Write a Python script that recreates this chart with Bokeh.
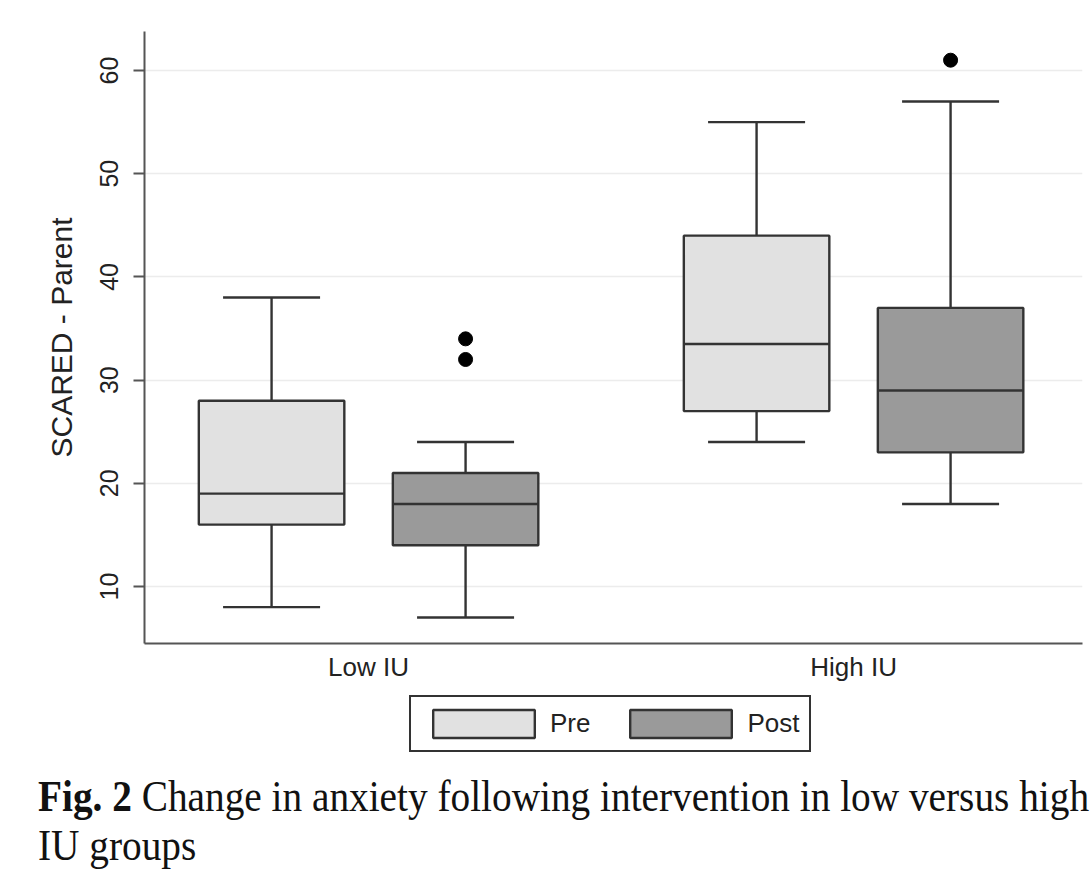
from bokeh.plotting import figure
from bokeh.models import (Legend, LegendItem, Div, ColumnDataSource, FixedTicker, Range1d)
from bokeh.layouts import column
from bokeh.embed import file_html
from bokeh.resources import INLINE

# ---------------- data ----------------
groups = ["Low IU", "High IU"]
phases = ["Pre", "Post"]
box_group = [0, 0, 1, 1]
box_phase = [0, 1, 0, 1]
whisker_low = [8, 7, 24, 18]
q1 = [16, 14, 27, 23]
median = [19, 18, 33.5, 29]
q3 = [28, 21, 44, 37]
whisker_high = [38, 24, 55, 57]
outlier_group = [0, 0, 1]
outlier_phase = [1, 1, 1]
outlier_value = [32, 34, 61]
y_ticks = [10, 20, 30, 40, 50, 60]
y_title = "SCARED - Parent"
caption_bold = "Fig. 2"
caption_line1 = "Change in anxiety following intervention in low versus high"
caption_line2 = "IU groups"

# ---------------- layout / style ----------------
phase_fill = ["#e1e1e1", "#9a9a9a"]
group_pos = [1.0, 2.0]
phase_offset = [-0.2, 0.2]
box_w = 0.3
cap_w = 0.2
dark = "#333333"
font = "Liberation Sans"

xc = [group_pos[g] + phase_offset[ph] for g, ph in zip(box_group, box_phase)]
src = ColumnDataSource(dict(
    x=xc,
    left=[x - box_w / 2 for x in xc],
    right=[x + box_w / 2 for x in xc],
    cl=[x - cap_w / 2 for x in xc],
    cr=[x + cap_w / 2 for x in xc],
    wl=whisker_low, q1=q1, med=median, q3=q3, wh=whisker_high,
    fill=[phase_fill[ph] for ph in box_phase],
))
osrc = ColumnDataSource(dict(
    x=[group_pos[g] + phase_offset[ph] for g, ph in zip(outlier_group, outlier_phase)],
    y=outlier_value,
))

p = figure(width=1084, height=688,
           x_range=Range1d(0.538, 2.472), y_range=Range1d(4.48, 63.78),
           output_backend="svg", toolbar_location=None,
           min_border_left=144, min_border_top=31, min_border_right=2,
           min_border_bottom=45)
p.outline_line_color = None
p.background_fill_color = "white"
p.border_fill_color = "white"

# whiskers
lw = 2.4
p.segment(x0="x", y0="wl", x1="x", y1="q1", source=src, line_color=dark, line_width=lw)
p.segment(x0="x", y0="q3", x1="x", y1="wh", source=src, line_color=dark, line_width=lw)
p.segment(x0="cl", y0="wl", x1="cr", y1="wl", source=src, line_color=dark, line_width=lw)
p.segment(x0="cl", y0="wh", x1="cr", y1="wh", source=src, line_color=dark, line_width=lw)
# boxes
p.quad(left="left", right="right", bottom="q1", top="q3", source=src,
       fill_color="fill", line_color=dark, line_width=lw)
p.segment(x0="left", y0="med", x1="right", y1="med", source=src, line_color=dark, line_width=lw)
# outliers
p.scatter(x="x", y="y", source=osrc, size=14, color="black")

# axes
p.xgrid.visible = False
p.ygrid.grid_line_color = "#ececec"
p.ygrid.grid_line_width = 1.5
p.ygrid.ticker = FixedTicker(ticks=y_ticks)

p.yaxis.ticker = FixedTicker(ticks=y_ticks)
p.yaxis.major_label_orientation = "vertical"
p.yaxis.major_label_text_font = font
p.yaxis.major_label_text_font_size = "25px"
p.yaxis.major_label_text_color = "#222222"
p.yaxis.major_tick_out = 11
p.yaxis.major_tick_in = 0
p.yaxis.minor_tick_out = 0
p.yaxis.minor_tick_in = 0
p.yaxis.major_label_standoff = 15
p.yaxis.axis_label = y_title
p.yaxis.axis_label_text_font = font
p.yaxis.axis_label_text_font_style = "normal"
p.yaxis.axis_label_text_font_size = "30px"
p.yaxis.axis_label_text_color = "#222222"
p.yaxis.axis_label_standoff = 20

p.xaxis.ticker = FixedTicker(ticks=group_pos)
p.xaxis.major_label_overrides = {pos: name for pos, name in zip(group_pos, groups)}
p.xaxis.major_label_text_font = font
p.xaxis.major_label_text_font_size = "26px"
p.xaxis.major_label_text_color = "#222222"
p.xaxis.major_tick_out = 0
p.xaxis.major_tick_in = 0
p.xaxis.minor_tick_out = 0
p.xaxis.minor_tick_in = 0
p.xaxis.major_label_standoff = 8

for ax in (p.xaxis[0], p.yaxis[0]):
    ax.axis_line_color = "#555555"
    ax.axis_line_width = 2
    ax.major_tick_line_color = "#555555"
    ax.major_tick_line_width = 2

# ---------------- legend strip (own small figure, frame aligned with p) ----------------
lg = figure(width=1084, height=83, x_axis_type=None, y_axis_type=None,
            x_range=Range1d(0, 1), y_range=Range1d(1000, 1001),
            output_backend="svg", toolbar_location=None,
            min_border_left=0, min_border_right=0, min_border_top=0, min_border_bottom=0)
lg.outline_line_color = None
lg.border_fill_color = "white"
lg_r = lg.quad(left="left", right="right", bottom="q1", top="q3", source=src,
               fill_color="fill", line_color=dark, line_width=lw)
legend = Legend(items=[LegendItem(label=phases[i], renderers=[lg_r], index=i) for i in range(2)],
                orientation="horizontal", location=(265, 19),
                glyph_width=127, glyph_height=35, label_standoff=3, spacing=27,
                padding=9, margin=0,
                label_text_font=font, label_text_font_size="26px", label_text_color="#222222",
                border_line_color=dark, border_line_width=2, border_line_alpha=1,
                background_fill_color="white", background_fill_alpha=1)
lg.add_layout(legend, "center")

# ---------------- caption ----------------
cap = Div(text=(
    '<div style="font-family: \'Liberation Serif\', serif; font-size: 39.3px; line-height: 44px; '
    'color: #111; white-space: nowrap; padding: 0 0 0 33px; '
    'transform: translateY(-4px) scaleY(1.12); transform-origin: 0 0;">'
    f'<b>{caption_bold}</b>&nbsp;{caption_line1}<br>{caption_line2}</div>'),
    width=1084, height=107)

open("out.html", "w").write(file_html(column(p, lg, cap, spacing=0), INLINE))
